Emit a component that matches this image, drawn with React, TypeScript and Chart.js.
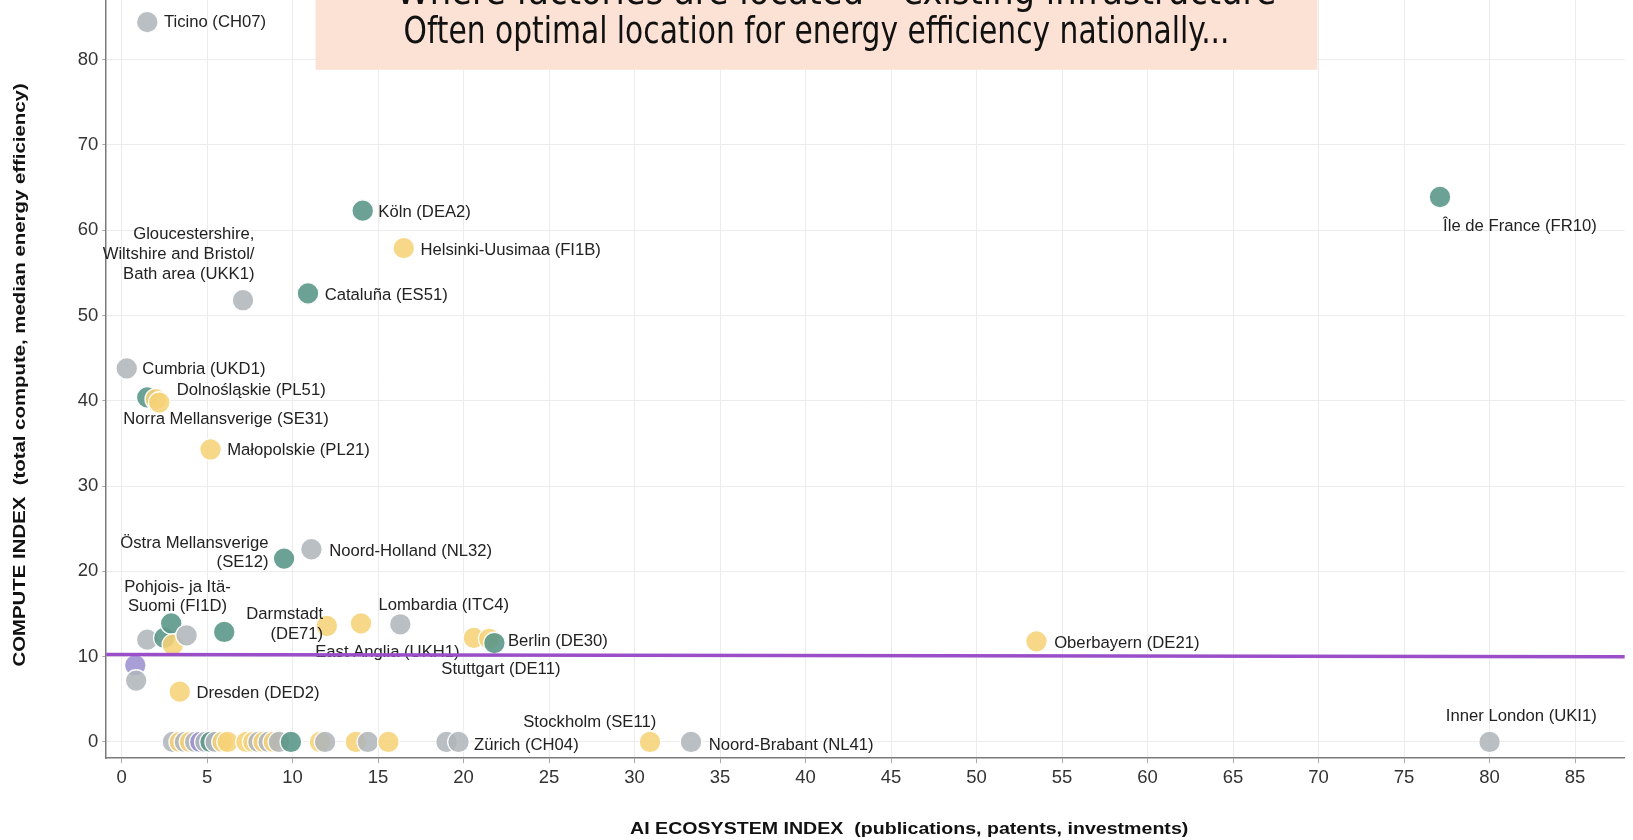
import React, { useEffect, useRef } from "react";
import { Chart, registerables } from "chart.js";

Chart.register(...registerables);

const xTicks = [0, 5, 10, 15, 20, 25, 30, 35, 40, 45, 50, 55, 60, 65, 70, 75, 80, 85];
const yTicks = [0, 10, 20, 30, 40, 50, 60, 70, 80];

const titleLines = [
  "Where factories are located – existing infrastructure",
  "Often optimal location for energy efficiency nationally...",
];
const xTitle = "AI ECOSYSTEM INDEX  (publications, patents, investments)";
const yTitle = "COMPUTE INDEX  (total compute, median energy efficiency)";

const tealX = [14.1, 10.9, 77.1, 1.5, 9.5, 2.9, 2.5, 6.0, 21.8, 5.2, 9.9];
const tealY = [62.3, 52.6, 63.9, 40.4, 21.5, 13.9, 12.2, 12.9, 11.6, 0, 0];
const tealNames = [
  "Köln (DEA2)", "Cataluña (ES51)", "Île de France (FR10)", "Norra Mellansverige (SE31)",
  "Östra Mellansverige\n(SE12)", "Pohjois- ja Itä-\nSuomi (FI1D)", "", "Darmstadt\n(DE71)",
  "Berlin (DE30)", "", "",
];

const yellowX = [16.5, 2.0, 2.2, 5.2, 3.0, 12.0, 14.0, 20.6, 21.5, 53.5, 3.4,
  3.4, 4.0, 5.9, 6.2, 7.3, 7.7, 8.3, 8.9, 11.6, 13.7, 15.6, 30.9];
const yellowY = [57.9, 40.2, 39.8, 34.3, 11.4, 13.6, 13.9, 12.2, 12.1, 11.8, 5.9,
  0, 0, 0, 0, 0, 0, 0, 0, 0, 0, 0, 0];
const yellowNames = [
  "Helsinki-Uusimaa (FI1B)", "Dolnośląskie (PL51)", "", "Małopolskie (PL21)", "", "",
  "East Anglia (UKH1)", "", "Stuttgart (DE11)", "Oberbayern (DE21)", "Dresden (DED2)",
  "", "", "", "", "", "", "", "", "", "", "", "Stockholm (SE11)",
];

const grayX = [1.5, 7.1, 0.3, 11.1, 1.5, 3.8, 16.3, 0.85,
  3.0, 3.7, 4.3, 4.9, 5.5, 8.0, 8.6, 9.2, 11.9, 14.4, 19.0, 19.7, 33.3, 80.0];
const grayY = [84.4, 51.8, 43.8, 22.6, 12.0, 12.5, 13.8, 7.2,
  0, 0, 0, 0, 0, 0, 0, 0, 0, 0, 0, 0, 0, 0];
const grayNames = [
  "Ticino (CH07)", "Gloucestershire,\nWiltshire and Bristol/\nBath area (UKK1)", "Cumbria (UKD1)",
  "Noord-Holland (NL32)", "", "", "Lombardia (ITC4)", "",
  "", "", "", "", "", "", "", "", "", "", "", "Zürich (CH04)", "Noord-Brabant (NL41)", "Inner London (UKI1)",
];

const purpleX = [0.8, 4.6];
const purpleY = [9.0, 0];
const purpleNames = ["", ""];

const trendX = [-1, 88];
const trendY = [10.25, 10.0];

const TEAL = "rgba(92,152,138,0.9)";
const YELLOW = "rgba(246,210,120,0.87)";
const GRAY = "rgba(176,181,187,0.87)";
const PURPLE = "rgba(155,146,208,0.88)";

// layout scale factor (styling only)
const K = 1633 / 1568;

// label placement relative to its point (pixels before K), styling only
const labelPlacement: Record<string, { dx: number; dy: number; align: CanvasTextAlign }> = {
  "Ticino (CH07)": { dx: 16, dy: 0, align: "left" },
  "Köln (DEA2)": { dx: 15, dy: 2, align: "left" },
  "Helsinki-Uusimaa (FI1B)": { dx: 16, dy: 2, align: "left" },
  "Gloucestershire,\nWiltshire and Bristol/\nBath area (UKK1)": { dx: 11, dy: -63, align: "right" },
  "Cataluña (ES51)": { dx: 16, dy: 2, align: "left" },
  "Île de France (FR10)": { dx: 3, dy: 28, align: "left" },
  "Cumbria (UKD1)": { dx: 15, dy: 1, align: "left" },
  "Dolnośląskie (PL51)": { dx: 20, dy: -8, align: "left" },
  "Norra Mellansverige (SE31)": { dx: -23, dy: 21, align: "left" },
  "Małopolskie (PL21)": { dx: 16, dy: 1, align: "left" },
  "Östra Mellansverige\n(SE12)": { dx: -15, dy: -15, align: "right" },
  "Noord-Holland (NL32)": { dx: 17, dy: 2, align: "left" },
  "Pohjois- ja Itä-\nSuomi (FI1D)": { dx: 6, dy: -35, align: "center" },
  "Darmstadt\n(DE71)": { dx: 95, dy: -17, align: "right" },
  "Lombardia (ITC4)": { dx: -21, dy: -18, align: "left" },
  "East Anglia (UKH1)": { dx: -44, dy: 28, align: "left" },
  "Berlin (DE30)": { dx: 13, dy: -2, align: "left" },
  "Stuttgart (DE11)": { dx: -46, dy: 29, align: "left" },
  "Oberbayern (DE21)": { dx: 17, dy: 2, align: "left" },
  "Dresden (DED2)": { dx: 16, dy: 2, align: "left" },
  "Stockholm (SE11)": { dx: 6, dy: -19, align: "right" },
  "Zürich (CH04)": { dx: 15, dy: 3, align: "left" },
  "Noord-Brabant (NL41)": { dx: 17, dy: 3, align: "left" },
  "Inner London (UKI1)": { dx: -42, dy: -25, align: "left" },
};

const groups = [
  { xs: tealX, ys: tealY, names: tealNames, color: TEAL },
  { xs: yellowX, ys: yellowY, names: yellowNames, color: YELLOW },
  { xs: grayX, ys: grayY, names: grayNames, color: GRAY },
  { xs: purpleX, ys: purpleY, names: purpleNames, color: PURPLE },
];

// all regions in one series, drawn in order of the x value (later points on top)
const regions = groups
  .flatMap((g) => g.xs.map((x, i) => ({ x, y: g.ys[i], name: g.names[i], color: g.color })))
  .sort((a, b) => a.x - b.x);

function drawFitted(ctx: CanvasRenderingContext2D, text: string, x: number, y: number, width: number, font: string, rotate = false) {
  ctx.save();
  ctx.font = font;
  const w = ctx.measureText(text).width;
  ctx.translate(x, y);
  if (rotate) ctx.rotate(-Math.PI / 2);
  ctx.scale(width / w, 1);
  ctx.textAlign = "center";
  ctx.fillText(text, 0, 0);
  ctx.restore();
}

export default function App() {
  const ref = useRef<HTMLCanvasElement | null>(null);

  useEffect(() => {
    document.body.style.margin = "0";
    if (!ref.current) return;

    const labelsPlugin = {
      id: "pointLabels",
      beforeDatasetDraw(chart: any, args: any) {
        if (args.index !== 0) return;
        const ctx = chart.ctx as CanvasRenderingContext2D;
        ctx.save();
        ctx.font = `${16 * K}px 'Liberation Sans', Arial, sans-serif`;
        ctx.fillStyle = "#222";
        ctx.textBaseline = "middle";
        chart.data.datasets.forEach((ds: any, di: number) => {
          const names: string[] | undefined = ds.names;
          if (!names) return;
          const meta = chart.getDatasetMeta(di);
          names.forEach((name, i) => {
            if (!name) return;
            const p = labelPlacement[name];
            const el = meta.data[i];
            if (!p || !el) return;
            ctx.textAlign = p.align;
            name.split("\n").forEach((line, li) => {
              ctx.fillText(line, el.x + p.dx * K, el.y + (p.dy + li * 19) * K);
            });
          });
        });
        ctx.restore();
      },
    };

    const decorPlugin = {
      id: "decor",
      afterDraw(chart: any) {
        const ctx = chart.ctx as CanvasRenderingContext2D;
        ctx.save();
        ctx.fillStyle = "#fce1d5";
        ctx.fillRect(303 * K, 0, 962 * K, 67 * K);
        ctx.fillStyle = "#111";
        ctx.textBaseline = "alphabetic";
        const tf = `${36 * K}px 'Liberation Sans Narrow', 'DejaVu Sans Condensed', sans-serif`;
        drawFitted(ctx, titleLines[0], 803 * K, 4, 845 * K, tf);
        drawFitted(ctx, titleLines[1], 784 * K, 41 * K, 793 * K, tf);
        ctx.fillStyle = "#111";
        ctx.textBaseline = "middle";
        const af = `bold ${16 * K}px 'Liberation Sans', Arial, sans-serif`;
        drawFitted(ctx, xTitle, 873 * K, 796 * K, 536 * K, af);
        drawFitted(ctx, yTitle, 20 * K, 360 * K, 560 * K, af, true);
        ctx.restore();
      },
    };

    const tickFont = { size: 18.5, family: "'Liberation Sans', Arial, sans-serif" };

    const chart = new Chart(ref.current, {
      type: "scatter",
      data: {
        datasets: [
          {
            type: "line",
            data: trendX.map((x, i) => ({ x, y: trendY[i] })),
            borderColor: "#9a4fc8",
            borderWidth: 3.6,
            pointRadius: 0,
            fill: false,
          } as any,
          {
            data: regions.map((r) => ({ x: r.x, y: r.y })),
            names: regions.map((r) => r.name),
            backgroundColor: regions.map((r) => r.color),
            borderColor: "rgba(255,255,255,0.95)",
            borderWidth: 1.3,
            pointRadius: 10.8,
            pointHoverRadius: 10.8,
          } as any,
        ],
      },
      options: {
        animation: false,
        responsive: true,
        maintainAspectRatio: false,
        layout: { autoPadding: false, padding: { left: 0, right: 1633 - 1560 * K, top: 0, bottom: 0 } },
        plugins: { legend: { display: false }, tooltip: { enabled: false } },
        scales: {
          x: {
            type: "linear",
            min: -0.9,
            max: 87.9,
            afterFit: (s: any) => { s.height = 840 - 728 * K; s.paddingLeft = 0; s.paddingRight = 0; },
            afterBuildTicks: (s: any) => { s.ticks = xTicks.map((v) => ({ value: v })); },
            grid: { color: "#ececec", lineWidth: 1, tickLength: 5, tickColor: "#aaa" },
            border: { color: "#7a7a7a", width: 1.5 },
            ticks: { padding: 4, color: "#333", font: tickFont, maxRotation: 0, autoSkip: false },
          },
          y: {
            type: "linear",
            min: -1.9,
            max: 87,
            afterFit: (s: any) => { s.width = 102 * K; s.paddingTop = 0; s.paddingBottom = 0; },
            afterBuildTicks: (s: any) => { s.ticks = yTicks.map((v) => ({ value: v })); },
            grid: { color: "#ececec", lineWidth: 1, tickLength: 4, tickColor: "#aaa" },
            border: { color: "#7a7a7a", width: 1.5 },
            ticks: { padding: 4, color: "#333", font: tickFont, autoSkip: false },
          },
        },
      },
      plugins: [labelsPlugin, decorPlugin],
    } as any);

    return () => chart.destroy();
  }, []);

  return (
    <div style={{ position: "relative", width: 1633, height: 840, background: "#fff" }}>
      <canvas ref={ref} />
    </div>
  );
}
